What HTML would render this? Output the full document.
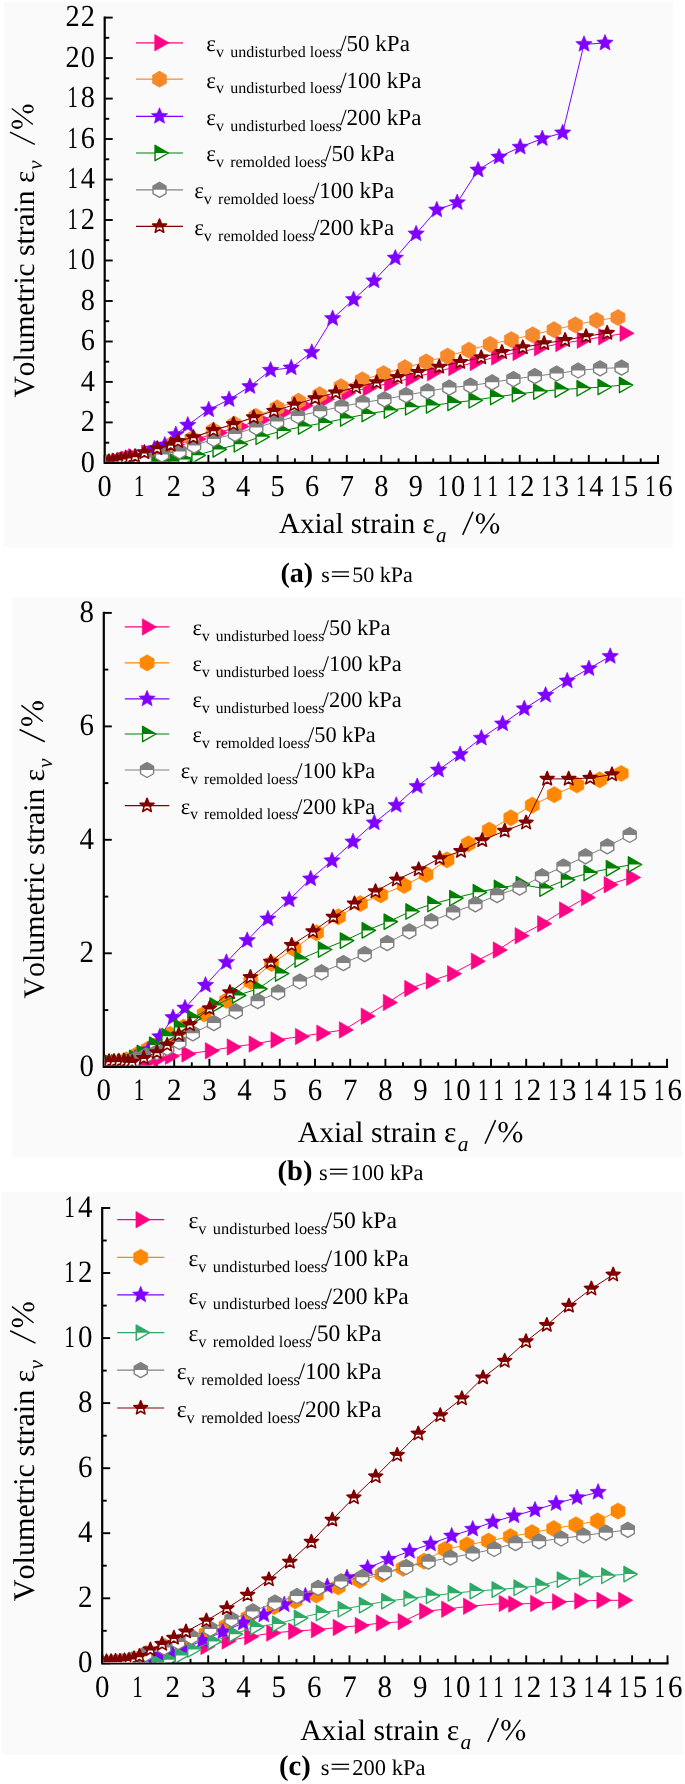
<!DOCTYPE html>
<html><head><meta charset="utf-8"><style>
html,body{margin:0;padding:0;background:#fff;}
svg{display:block;text-rendering:geometricPrecision;font-kerning:none;will-change:transform;}
text{font-family:"Liberation Serif", serif;}
</style></head><body>
<svg width="685" height="1784" viewBox="0 0 685 1784" font-family='"Liberation Serif", serif' fill="#000"><defs><clipPath id="th"><rect x="-15" y="-15" width="30" height="15"/></clipPath><clipPath id="th1"><rect x="-15" y="-15" width="30" height="16"/></clipPath><polygon id="m_pink" points="9.50,0.00 -4.75,-8.23 -4.75,8.23" fill="#FF0384" stroke="#FF0384" stroke-width="0.6" stroke-linejoin="round"/><polygon id="m_or1" points="0.00,-8.10 7.01,-4.05 7.01,4.05 0.00,8.10 -7.01,4.05 -7.01,-4.05" fill="#F5892C" stroke="#F5892C" stroke-width="0.6" stroke-linejoin="round"/><polygon id="m_or" points="0.00,-8.10 7.01,-4.05 7.01,4.05 0.00,8.10 -7.01,4.05 -7.01,-4.05" fill="#FF8800" stroke="#FF8800" stroke-width="0.6" stroke-linejoin="round"/><polygon id="m_pur" points="0.00,-8.60 2.29,-3.16 8.18,-2.66 3.71,1.21 5.05,6.96 0.00,3.90 -5.05,6.96 -3.71,1.21 -8.18,-2.66 -2.29,-3.16" fill="#8000FF" stroke="#8000FF" stroke-width="0.6" stroke-linejoin="round"/><g id="m_grn"><polygon points="8.90,0.00 -4.45,-7.71 -4.45,7.71" fill="#fff"/><polygon points="8.90,0.00 -4.45,-7.71 -4.45,7.71" fill="#008000" clip-path="url(#th)"/><polygon points="8.90,0.00 -4.45,-7.71 -4.45,7.71" fill="none" stroke="#008000" stroke-width="1.4" stroke-linejoin="round"/></g><g id="m_teal"><polygon points="8.90,0.00 -4.45,-7.71 -4.45,7.71" fill="#fff"/><polygon points="8.90,0.00 -4.45,-7.71 -4.45,7.71" fill="#2EAA66" clip-path="url(#th)"/><polygon points="8.90,0.00 -4.45,-7.71 -4.45,7.71" fill="none" stroke="#2EAA66" stroke-width="1.4" stroke-linejoin="round"/></g><g id="m_gry"><polygon points="0.00,-7.50 6.50,-3.75 6.50,3.75 0.00,7.50 -6.50,3.75 -6.50,-3.75" fill="#fff"/><polygon points="0.00,-7.50 6.50,-3.75 6.50,3.75 0.00,7.50 -6.50,3.75 -6.50,-3.75" fill="#808080" clip-path="url(#th)"/><polygon points="0.00,-7.50 6.50,-3.75 6.50,3.75 0.00,7.50 -6.50,3.75 -6.50,-3.75" fill="none" stroke="#808080" stroke-width="1.4" stroke-linejoin="round"/></g><g id="m_dred"><polygon points="0.00,-7.30 1.88,-2.59 6.94,-2.26 3.04,0.99 4.29,5.91 0.00,3.20 -4.29,5.91 -3.04,0.99 -6.94,-2.26 -1.88,-2.59" fill="#fff"/><polygon points="0.00,-7.30 1.88,-2.59 6.94,-2.26 3.04,0.99 4.29,5.91 0.00,3.20 -4.29,5.91 -3.04,0.99 -6.94,-2.26 -1.88,-2.59" fill="#800000" clip-path="url(#th1)"/><polygon points="0.00,-7.30 1.88,-2.59 6.94,-2.26 3.04,0.99 4.29,5.91 0.00,3.20 -4.29,5.91 -3.04,0.99 -6.94,-2.26 -1.88,-2.59" fill="none" stroke="#800000" stroke-width="1.6" stroke-linejoin="round"/></g></defs><rect x="0" y="0" width="685" height="1784" fill="#fff"/><rect x="3.5" y="2.3" width="669.5" height="545" fill="#FAFAFA"/><rect x="12.3" y="597.4" width="670" height="559.5" fill="#FAFAFA"/><rect x="2.3" y="1192" width="680.5" height="563" fill="#FAFAFA"/><path d="M104.7,17.6 V462.9 H658.0" fill="none" stroke="#000" stroke-width="2.2" stroke-linecap="square"/><line x1="104.7" y1="462.9" x2="112.7" y2="462.9" stroke="#000" stroke-width="1.9"/><text transform="translate(87.88,471.60) scale(0.93,1)" font-size="30.50" text-anchor="middle">0</text><line x1="104.7" y1="442.7" x2="109.2" y2="442.7" stroke="#000" stroke-width="1.9"/><line x1="104.7" y1="422.4" x2="112.7" y2="422.4" stroke="#000" stroke-width="1.9"/><text transform="translate(87.88,431.12) scale(0.93,1)" font-size="30.50" text-anchor="middle">2</text><line x1="104.7" y1="402.2" x2="109.2" y2="402.2" stroke="#000" stroke-width="1.9"/><line x1="104.7" y1="381.9" x2="112.7" y2="381.9" stroke="#000" stroke-width="1.9"/><text transform="translate(87.88,390.64) scale(0.93,1)" font-size="30.50" text-anchor="middle">4</text><line x1="104.7" y1="361.7" x2="109.2" y2="361.7" stroke="#000" stroke-width="1.9"/><line x1="104.7" y1="341.5" x2="112.7" y2="341.5" stroke="#000" stroke-width="1.9"/><text transform="translate(87.88,350.15) scale(0.93,1)" font-size="30.50" text-anchor="middle">6</text><line x1="104.7" y1="321.2" x2="109.2" y2="321.2" stroke="#000" stroke-width="1.9"/><line x1="104.7" y1="301.0" x2="112.7" y2="301.0" stroke="#000" stroke-width="1.9"/><text transform="translate(87.88,309.67) scale(0.93,1)" font-size="30.50" text-anchor="middle">8</text><line x1="104.7" y1="280.7" x2="109.2" y2="280.7" stroke="#000" stroke-width="1.9"/><line x1="104.7" y1="260.5" x2="112.7" y2="260.5" stroke="#000" stroke-width="1.9"/><text transform="translate(72.62,269.19) scale(0.68,1)" font-size="30.50" text-anchor="middle">1</text><text transform="translate(87.88,269.19) scale(0.93,1)" font-size="30.50" text-anchor="middle">0</text><line x1="104.7" y1="240.2" x2="109.2" y2="240.2" stroke="#000" stroke-width="1.9"/><line x1="104.7" y1="220.0" x2="112.7" y2="220.0" stroke="#000" stroke-width="1.9"/><text transform="translate(72.62,228.71) scale(0.68,1)" font-size="30.50" text-anchor="middle">1</text><text transform="translate(87.88,228.71) scale(0.93,1)" font-size="30.50" text-anchor="middle">2</text><line x1="104.7" y1="199.8" x2="109.2" y2="199.8" stroke="#000" stroke-width="1.9"/><line x1="104.7" y1="179.5" x2="112.7" y2="179.5" stroke="#000" stroke-width="1.9"/><text transform="translate(72.62,188.23) scale(0.68,1)" font-size="30.50" text-anchor="middle">1</text><text transform="translate(87.88,188.23) scale(0.93,1)" font-size="30.50" text-anchor="middle">4</text><line x1="104.7" y1="159.3" x2="109.2" y2="159.3" stroke="#000" stroke-width="1.9"/><line x1="104.7" y1="139.0" x2="112.7" y2="139.0" stroke="#000" stroke-width="1.9"/><text transform="translate(72.62,147.75) scale(0.68,1)" font-size="30.50" text-anchor="middle">1</text><text transform="translate(87.88,147.75) scale(0.93,1)" font-size="30.50" text-anchor="middle">6</text><line x1="104.7" y1="118.8" x2="109.2" y2="118.8" stroke="#000" stroke-width="1.9"/><line x1="104.7" y1="98.6" x2="112.7" y2="98.6" stroke="#000" stroke-width="1.9"/><text transform="translate(72.62,107.26) scale(0.68,1)" font-size="30.50" text-anchor="middle">1</text><text transform="translate(87.88,107.26) scale(0.93,1)" font-size="30.50" text-anchor="middle">8</text><line x1="104.7" y1="78.3" x2="109.2" y2="78.3" stroke="#000" stroke-width="1.9"/><line x1="104.7" y1="58.1" x2="112.7" y2="58.1" stroke="#000" stroke-width="1.9"/><text transform="translate(72.62,66.78) scale(0.93,1)" font-size="30.50" text-anchor="middle">2</text><text transform="translate(87.88,66.78) scale(0.93,1)" font-size="30.50" text-anchor="middle">0</text><line x1="104.7" y1="37.8" x2="109.2" y2="37.8" stroke="#000" stroke-width="1.9"/><line x1="104.7" y1="17.6" x2="112.7" y2="17.6" stroke="#000" stroke-width="1.9"/><text transform="translate(72.62,26.30) scale(0.93,1)" font-size="30.50" text-anchor="middle">2</text><text transform="translate(87.88,26.30) scale(0.93,1)" font-size="30.50" text-anchor="middle">2</text><line x1="104.7" y1="462.9" x2="104.7" y2="454.9" stroke="#000" stroke-width="1.9"/><text transform="translate(104.70,495.50) scale(0.93,1)" font-size="30.50" text-anchor="middle">0</text><line x1="122.0" y1="462.9" x2="122.0" y2="458.4" stroke="#000" stroke-width="1.9"/><line x1="139.3" y1="462.9" x2="139.3" y2="454.9" stroke="#000" stroke-width="1.9"/><text transform="translate(139.28,495.50) scale(0.68,1)" font-size="30.50" text-anchor="middle">1</text><line x1="156.6" y1="462.9" x2="156.6" y2="458.4" stroke="#000" stroke-width="1.9"/><line x1="173.9" y1="462.9" x2="173.9" y2="454.9" stroke="#000" stroke-width="1.9"/><text transform="translate(173.86,495.50) scale(0.93,1)" font-size="30.50" text-anchor="middle">2</text><line x1="191.1" y1="462.9" x2="191.1" y2="458.4" stroke="#000" stroke-width="1.9"/><line x1="208.4" y1="462.9" x2="208.4" y2="454.9" stroke="#000" stroke-width="1.9"/><text transform="translate(208.44,495.50) scale(0.93,1)" font-size="30.50" text-anchor="middle">3</text><line x1="225.7" y1="462.9" x2="225.7" y2="458.4" stroke="#000" stroke-width="1.9"/><line x1="243.0" y1="462.9" x2="243.0" y2="454.9" stroke="#000" stroke-width="1.9"/><text transform="translate(243.02,495.50) scale(0.93,1)" font-size="30.50" text-anchor="middle">4</text><line x1="260.3" y1="462.9" x2="260.3" y2="458.4" stroke="#000" stroke-width="1.9"/><line x1="277.6" y1="462.9" x2="277.6" y2="454.9" stroke="#000" stroke-width="1.9"/><text transform="translate(277.60,495.50) scale(0.93,1)" font-size="30.50" text-anchor="middle">5</text><line x1="294.9" y1="462.9" x2="294.9" y2="458.4" stroke="#000" stroke-width="1.9"/><line x1="312.2" y1="462.9" x2="312.2" y2="454.9" stroke="#000" stroke-width="1.9"/><text transform="translate(312.18,495.50) scale(0.93,1)" font-size="30.50" text-anchor="middle">6</text><line x1="329.5" y1="462.9" x2="329.5" y2="458.4" stroke="#000" stroke-width="1.9"/><line x1="346.8" y1="462.9" x2="346.8" y2="454.9" stroke="#000" stroke-width="1.9"/><text transform="translate(346.76,495.50) scale(0.93,1)" font-size="30.50" text-anchor="middle">7</text><line x1="364.0" y1="462.9" x2="364.0" y2="458.4" stroke="#000" stroke-width="1.9"/><line x1="381.3" y1="462.9" x2="381.3" y2="454.9" stroke="#000" stroke-width="1.9"/><text transform="translate(381.34,495.50) scale(0.93,1)" font-size="30.50" text-anchor="middle">8</text><line x1="398.6" y1="462.9" x2="398.6" y2="458.4" stroke="#000" stroke-width="1.9"/><line x1="415.9" y1="462.9" x2="415.9" y2="454.9" stroke="#000" stroke-width="1.9"/><text transform="translate(415.92,495.50) scale(0.93,1)" font-size="30.50" text-anchor="middle">9</text><line x1="433.2" y1="462.9" x2="433.2" y2="458.4" stroke="#000" stroke-width="1.9"/><line x1="450.5" y1="462.9" x2="450.5" y2="454.9" stroke="#000" stroke-width="1.9"/><text transform="translate(442.87,495.50) scale(0.68,1)" font-size="30.50" text-anchor="middle">1</text><text transform="translate(458.12,495.50) scale(0.93,1)" font-size="30.50" text-anchor="middle">0</text><line x1="467.8" y1="462.9" x2="467.8" y2="458.4" stroke="#000" stroke-width="1.9"/><line x1="485.1" y1="462.9" x2="485.1" y2="454.9" stroke="#000" stroke-width="1.9"/><text transform="translate(477.45,495.50) scale(0.68,1)" font-size="30.50" text-anchor="middle">1</text><text transform="translate(492.70,495.50) scale(0.68,1)" font-size="30.50" text-anchor="middle">1</text><line x1="502.4" y1="462.9" x2="502.4" y2="458.4" stroke="#000" stroke-width="1.9"/><line x1="519.7" y1="462.9" x2="519.7" y2="454.9" stroke="#000" stroke-width="1.9"/><text transform="translate(512.03,495.50) scale(0.68,1)" font-size="30.50" text-anchor="middle">1</text><text transform="translate(527.28,495.50) scale(0.93,1)" font-size="30.50" text-anchor="middle">2</text><line x1="537.0" y1="462.9" x2="537.0" y2="458.4" stroke="#000" stroke-width="1.9"/><line x1="554.2" y1="462.9" x2="554.2" y2="454.9" stroke="#000" stroke-width="1.9"/><text transform="translate(546.62,495.50) scale(0.68,1)" font-size="30.50" text-anchor="middle">1</text><text transform="translate(561.87,495.50) scale(0.93,1)" font-size="30.50" text-anchor="middle">3</text><line x1="571.5" y1="462.9" x2="571.5" y2="458.4" stroke="#000" stroke-width="1.9"/><line x1="588.8" y1="462.9" x2="588.8" y2="454.9" stroke="#000" stroke-width="1.9"/><text transform="translate(581.20,495.50) scale(0.68,1)" font-size="30.50" text-anchor="middle">1</text><text transform="translate(596.45,495.50) scale(0.93,1)" font-size="30.50" text-anchor="middle">4</text><line x1="606.1" y1="462.9" x2="606.1" y2="458.4" stroke="#000" stroke-width="1.9"/><line x1="623.4" y1="462.9" x2="623.4" y2="454.9" stroke="#000" stroke-width="1.9"/><text transform="translate(615.77,495.50) scale(0.68,1)" font-size="30.50" text-anchor="middle">1</text><text transform="translate(631.02,495.50) scale(0.93,1)" font-size="30.50" text-anchor="middle">5</text><line x1="640.7" y1="462.9" x2="640.7" y2="458.4" stroke="#000" stroke-width="1.9"/><line x1="658.0" y1="462.9" x2="658.0" y2="454.9" stroke="#000" stroke-width="1.9"/><text transform="translate(650.36,495.50) scale(0.68,1)" font-size="30.50" text-anchor="middle">1</text><text transform="translate(665.61,495.50) scale(0.93,1)" font-size="30.50" text-anchor="middle">6</text><g transform="translate(33.6,396.9) rotate(-90)"><text x="-0.50" y="0.00" font-size="29.45" font-weight="400" font-style="normal" text-anchor="start" >Volumetric strain</text><text x="213.80" y="0.00" font-size="29.45" font-weight="400" font-style="normal" text-anchor="start" >ε</text><text x="227.10" y="8.30" font-size="21.00" font-weight="400" font-style="italic" text-anchor="start" >v</text><g transform="translate(251.9,0) scale(1.0)"><path d="M0.7,1.2 L12.8,-23.6" stroke="#000" stroke-width="1.5" fill="none"/><path d="M20.6,-0.7 L36.4,-21.8" stroke="#000" stroke-width="1.3" fill="none"/><path d="M16.1,-16.5 a4.5,5.6 0 1,0 9,0 a4.5,5.6 0 1,0 -9,0 Z M18.35,-16.5 a2.25,4.5 0 1,0 4.5,0 a2.25,4.5 0 1,0 -4.5,0 Z" fill="#000" fill-rule="evenodd"/><path d="M31.6,-5.5 a4.5,5.6 0 1,0 9,0 a4.5,5.6 0 1,0 -9,0 Z M33.85,-5.5 a2.25,4.5 0 1,0 4.5,0 a2.25,4.5 0 1,0 -4.5,0 Z" fill="#000" fill-rule="evenodd"/></g></g><g transform="translate(279.7,533.1) scale(1.0)"><text x="-0.60" y="0.00" font-size="29" font-weight="400" font-style="normal" text-anchor="start" >Axial strain ε</text><text x="156.20" y="8.70" font-size="21" font-weight="400" font-style="italic" text-anchor="start" >a</text><path d="M183.0,1.8 L193.3,-21.4" stroke="#000" stroke-width="1.5" fill="none"/><path d="M200.8,0.2 L214.8,-19.8" stroke="#000" stroke-width="1.3" fill="none"/><path d="M196.1,-14.45 a4.6,5.35 0 1,0 9.2,0 a4.6,5.35 0 1,0 -9.2,0 Z M198.39999999999998,-14.45 a2.3,4.3 0 1,0 4.6,0 a2.3,4.3 0 1,0 -4.6,0 Z" fill="#000" fill-rule="evenodd"/><path d="M210.4,-4.75 a4.6,5.35 0 1,0 9.2,0 a4.6,5.35 0 1,0 -9.2,0 Z M212.7,-4.75 a2.3,4.3 0 1,0 4.6,0 a2.3,4.3 0 1,0 -4.6,0 Z" fill="#000" fill-rule="evenodd"/></g><g transform="translate(281.7,581.9) scale(1.0)"><text x="-1.20" y="0.50" font-size="28" font-weight="700" font-style="normal" text-anchor="start" >(a)</text><text x="39.50" y="0.00" font-size="22" font-weight="400" font-style="normal" text-anchor="start" >s</text><rect x="50.2" y="-10.65" width="17.1" height="1.3" fill="#000"/><rect x="50.2" y="-6.15" width="17.1" height="1.3" fill="#000"/><text x="70.50" y="0.00" font-size="22" font-weight="400" font-style="normal" text-anchor="start" >50 kPa</text></g><clipPath id="plot0"><rect x="105.8" y="-2.3999999999999986" width="573.28" height="464.19999999999993"/></clipPath><g clip-path="url(#plot0)"><path d="M104.7,463.0 L108.5,462.8 L113.0,462.3 L117.6,461.5 L122.3,460.3 L126.4,459.2 L129.9,458.0 L133.4,456.8 L146.3,453.3 L159.1,449.2 L175.3,444.7 L196.7,439.1 L218.1,432.7 L239.5,426.5 L260.9,419.9 L282.3,412.6 L303.7,405.8 L325.1,399.2 L346.5,392.9 L367.9,387.9 L389.3,383.4 L410.7,378.3 L432.1,372.8 L453.5,367.5 L474.9,362.4 L496.3,356.9 L517.7,352.4 L539.1,347.8 L560.5,343.6 L581.9,340.2 L603.3,336.8 L624.7,333.3" fill="none" stroke="#FF0384" stroke-width="1.0"/><use href="#m_pink" x="104.7" y="463.0"/><use href="#m_pink" x="108.5" y="462.8"/><use href="#m_pink" x="113.0" y="462.3"/><use href="#m_pink" x="117.6" y="461.5"/><use href="#m_pink" x="122.3" y="460.3"/><use href="#m_pink" x="126.4" y="459.2"/><use href="#m_pink" x="129.9" y="458.0"/><use href="#m_pink" x="133.4" y="456.8"/><use href="#m_pink" x="146.3" y="453.3"/><use href="#m_pink" x="159.1" y="449.2"/><use href="#m_pink" x="175.3" y="444.7"/><use href="#m_pink" x="196.7" y="439.1"/><use href="#m_pink" x="218.1" y="432.7"/><use href="#m_pink" x="239.5" y="426.5"/><use href="#m_pink" x="260.9" y="419.9"/><use href="#m_pink" x="282.3" y="412.6"/><use href="#m_pink" x="303.7" y="405.8"/><use href="#m_pink" x="325.1" y="399.2"/><use href="#m_pink" x="346.5" y="392.9"/><use href="#m_pink" x="367.9" y="387.9"/><use href="#m_pink" x="389.3" y="383.4"/><use href="#m_pink" x="410.7" y="378.3"/><use href="#m_pink" x="432.1" y="372.8"/><use href="#m_pink" x="453.5" y="367.5"/><use href="#m_pink" x="474.9" y="362.4"/><use href="#m_pink" x="496.3" y="356.9"/><use href="#m_pink" x="517.7" y="352.4"/><use href="#m_pink" x="539.1" y="347.8"/><use href="#m_pink" x="560.5" y="343.6"/><use href="#m_pink" x="581.9" y="340.2"/><use href="#m_pink" x="603.3" y="336.8"/><use href="#m_pink" x="624.7" y="333.3"/><path d="M106.7,462.7 L128.0,460.1 L149.3,453.3 L170.6,444.9 L191.9,438.9 L213.2,430.5 L234.5,424.2 L255.8,416.4 L277.1,407.9 L298.4,401.2 L319.7,394.7 L341.0,386.7 L362.3,379.8 L383.6,373.6 L404.9,367.7 L426.2,361.9 L447.5,356.1 L468.8,350.2 L490.1,344.3 L511.4,339.6 L532.7,334.8 L554.0,329.7 L575.3,324.9 L596.6,320.4 L617.9,317.5" fill="none" stroke="#F5892C" stroke-width="1.0"/><use href="#m_or1" x="106.7" y="462.7"/><use href="#m_or1" x="128.0" y="460.1"/><use href="#m_or1" x="149.3" y="453.3"/><use href="#m_or1" x="170.6" y="444.9"/><use href="#m_or1" x="191.9" y="438.9"/><use href="#m_or1" x="213.2" y="430.5"/><use href="#m_or1" x="234.5" y="424.2"/><use href="#m_or1" x="255.8" y="416.4"/><use href="#m_or1" x="277.1" y="407.9"/><use href="#m_or1" x="298.4" y="401.2"/><use href="#m_or1" x="319.7" y="394.7"/><use href="#m_or1" x="341.0" y="386.7"/><use href="#m_or1" x="362.3" y="379.8"/><use href="#m_or1" x="383.6" y="373.6"/><use href="#m_or1" x="404.9" y="367.7"/><use href="#m_or1" x="426.2" y="361.9"/><use href="#m_or1" x="447.5" y="356.1"/><use href="#m_or1" x="468.8" y="350.2"/><use href="#m_or1" x="490.1" y="344.3"/><use href="#m_or1" x="511.4" y="339.6"/><use href="#m_or1" x="532.7" y="334.8"/><use href="#m_or1" x="554.0" y="329.7"/><use href="#m_or1" x="575.3" y="324.9"/><use href="#m_or1" x="596.6" y="320.4"/><use href="#m_or1" x="617.9" y="317.5"/><path d="M104.7,463.0 L112.0,462.0 L120.0,460.5 L128.0,459.0 L136.0,457.5 L147.9,454.5 L154.3,449.0 L164.8,445.0 L175.8,434.6 L187.8,425.1 L208.7,409.8 L229.1,399.5 L249.9,386.5 L270.6,370.2 L291.2,367.8 L311.8,352.3 L332.6,318.5 L353.6,299.5 L374.0,280.8 L395.3,258.0 L416.1,233.8 L436.8,209.9 L457.2,202.6 L478.1,170.0 L499.0,157.0 L520.2,147.1 L542.3,138.6 L562.7,132.8 L584.0,44.3 L605.0,43.0" fill="none" stroke="#8000FF" stroke-width="1.0"/><use href="#m_pur" x="104.7" y="463.0"/><use href="#m_pur" x="112.0" y="462.0"/><use href="#m_pur" x="120.0" y="460.5"/><use href="#m_pur" x="128.0" y="459.0"/><use href="#m_pur" x="136.0" y="457.5"/><use href="#m_pur" x="147.9" y="454.5"/><use href="#m_pur" x="154.3" y="449.0"/><use href="#m_pur" x="164.8" y="445.0"/><use href="#m_pur" x="175.8" y="434.6"/><use href="#m_pur" x="187.8" y="425.1"/><use href="#m_pur" x="208.7" y="409.8"/><use href="#m_pur" x="229.1" y="399.5"/><use href="#m_pur" x="249.9" y="386.5"/><use href="#m_pur" x="270.6" y="370.2"/><use href="#m_pur" x="291.2" y="367.8"/><use href="#m_pur" x="311.8" y="352.3"/><use href="#m_pur" x="332.6" y="318.5"/><use href="#m_pur" x="353.6" y="299.5"/><use href="#m_pur" x="374.0" y="280.8"/><use href="#m_pur" x="395.3" y="258.0"/><use href="#m_pur" x="416.1" y="233.8"/><use href="#m_pur" x="436.8" y="209.9"/><use href="#m_pur" x="457.2" y="202.6"/><use href="#m_pur" x="478.1" y="170.0"/><use href="#m_pur" x="499.0" y="157.0"/><use href="#m_pur" x="520.2" y="147.1"/><use href="#m_pur" x="542.3" y="138.6"/><use href="#m_pur" x="562.7" y="132.8"/><use href="#m_pur" x="584.0" y="44.3"/><use href="#m_pur" x="605.0" y="43.0"/><path d="M104.7,463.0 L112.0,463.0 L120.0,463.0 L128.0,463.0 L136.0,462.8 L145.0,462.5 L156.0,462.2 L165.0,462.0 L174.5,461.8 L183.2,459.6 L196.4,455.3 L217.5,449.4 L238.7,444.3 L260.5,436.8 L281.8,431.0 L302.9,426.5 L323.4,423.0 L345.0,418.5 L366.5,414.0 L388.8,410.5 L410.0,407.3 L430.9,405.4 L452.3,402.9 L473.5,400.3 L495.0,397.0 L516.8,394.1 L538.1,391.6 L559.6,389.6 L581.5,388.3 L602.5,387.0 L623.9,385.0" fill="none" stroke="#008000" stroke-width="1.0"/><use href="#m_grn" x="104.7" y="463.0"/><use href="#m_grn" x="112.0" y="463.0"/><use href="#m_grn" x="120.0" y="463.0"/><use href="#m_grn" x="128.0" y="463.0"/><use href="#m_grn" x="136.0" y="462.8"/><use href="#m_grn" x="145.0" y="462.5"/><use href="#m_grn" x="156.0" y="462.2"/><use href="#m_grn" x="165.0" y="462.0"/><use href="#m_grn" x="174.5" y="461.8"/><use href="#m_grn" x="183.2" y="459.6"/><use href="#m_grn" x="196.4" y="455.3"/><use href="#m_grn" x="217.5" y="449.4"/><use href="#m_grn" x="238.7" y="444.3"/><use href="#m_grn" x="260.5" y="436.8"/><use href="#m_grn" x="281.8" y="431.0"/><use href="#m_grn" x="302.9" y="426.5"/><use href="#m_grn" x="323.4" y="423.0"/><use href="#m_grn" x="345.0" y="418.5"/><use href="#m_grn" x="366.5" y="414.0"/><use href="#m_grn" x="388.8" y="410.5"/><use href="#m_grn" x="410.0" y="407.3"/><use href="#m_grn" x="430.9" y="405.4"/><use href="#m_grn" x="452.3" y="402.9"/><use href="#m_grn" x="473.5" y="400.3"/><use href="#m_grn" x="495.0" y="397.0"/><use href="#m_grn" x="516.8" y="394.1"/><use href="#m_grn" x="538.1" y="391.6"/><use href="#m_grn" x="559.6" y="389.6"/><use href="#m_grn" x="581.5" y="388.3"/><use href="#m_grn" x="602.5" y="387.0"/><use href="#m_grn" x="623.9" y="385.0"/><path d="M104.7,463.0 L112.0,462.5 L120.0,461.5 L128.0,460.5 L136.0,459.5 L145.0,457.5 L162.0,454.5 L179.5,451.4 L194.1,445.6 L213.8,439.0 L235.0,433.9 L256.3,427.5 L277.1,421.5 L297.9,416.0 L320.1,411.2 L341.6,406.5 L362.6,402.5 L384.4,399.3 L406.0,395.2 L427.4,391.3 L449.3,387.6 L470.5,385.7 L492.1,382.3 L513.4,379.1 L534.8,376.2 L556.6,373.5 L578.2,370.5 L600.1,368.4 L621.6,367.7" fill="none" stroke="#808080" stroke-width="1.0"/><use href="#m_gry" x="104.7" y="463.0"/><use href="#m_gry" x="112.0" y="462.5"/><use href="#m_gry" x="120.0" y="461.5"/><use href="#m_gry" x="128.0" y="460.5"/><use href="#m_gry" x="136.0" y="459.5"/><use href="#m_gry" x="145.0" y="457.5"/><use href="#m_gry" x="162.0" y="454.5"/><use href="#m_gry" x="179.5" y="451.4"/><use href="#m_gry" x="194.1" y="445.6"/><use href="#m_gry" x="213.8" y="439.0"/><use href="#m_gry" x="235.0" y="433.9"/><use href="#m_gry" x="256.3" y="427.5"/><use href="#m_gry" x="277.1" y="421.5"/><use href="#m_gry" x="297.9" y="416.0"/><use href="#m_gry" x="320.1" y="411.2"/><use href="#m_gry" x="341.6" y="406.5"/><use href="#m_gry" x="362.6" y="402.5"/><use href="#m_gry" x="384.4" y="399.3"/><use href="#m_gry" x="406.0" y="395.2"/><use href="#m_gry" x="427.4" y="391.3"/><use href="#m_gry" x="449.3" y="387.6"/><use href="#m_gry" x="470.5" y="385.7"/><use href="#m_gry" x="492.1" y="382.3"/><use href="#m_gry" x="513.4" y="379.1"/><use href="#m_gry" x="534.8" y="376.2"/><use href="#m_gry" x="556.6" y="373.5"/><use href="#m_gry" x="578.2" y="370.5"/><use href="#m_gry" x="600.1" y="368.4"/><use href="#m_gry" x="621.6" y="367.7"/><path d="M104.7,461.5 L109.0,461.5 L113.0,461.0 L117.0,460.5 L121.0,459.5 L125.5,458.5 L130.0,457.5 L135.0,456.3 L144.4,452.4 L157.2,448.3 L170.7,444.8 L178.0,441.2 L193.4,437.3 L213.5,430.2 L233.5,424.2 L253.7,417.3 L274.0,411.0 L294.4,404.7 L315.2,398.3 L335.8,392.6 L356.0,387.2 L376.6,382.4 L397.5,377.2 L418.2,372.1 L439.2,366.8 L460.2,362.1 L481.2,357.5 L502.0,352.2 L522.8,347.5 L544.1,343.4 L565.1,340.2 L586.1,336.3 L607.2,333.0" fill="none" stroke="#800000" stroke-width="1.0"/><use href="#m_dred" x="104.7" y="461.5"/><use href="#m_dred" x="109.0" y="461.5"/><use href="#m_dred" x="113.0" y="461.0"/><use href="#m_dred" x="117.0" y="460.5"/><use href="#m_dred" x="121.0" y="459.5"/><use href="#m_dred" x="125.5" y="458.5"/><use href="#m_dred" x="130.0" y="457.5"/><use href="#m_dred" x="135.0" y="456.3"/><use href="#m_dred" x="144.4" y="452.4"/><use href="#m_dred" x="157.2" y="448.3"/><use href="#m_dred" x="170.7" y="444.8"/><use href="#m_dred" x="178.0" y="441.2"/><use href="#m_dred" x="193.4" y="437.3"/><use href="#m_dred" x="213.5" y="430.2"/><use href="#m_dred" x="233.5" y="424.2"/><use href="#m_dred" x="253.7" y="417.3"/><use href="#m_dred" x="274.0" y="411.0"/><use href="#m_dred" x="294.4" y="404.7"/><use href="#m_dred" x="315.2" y="398.3"/><use href="#m_dred" x="335.8" y="392.6"/><use href="#m_dred" x="356.0" y="387.2"/><use href="#m_dred" x="376.6" y="382.4"/><use href="#m_dred" x="397.5" y="377.2"/><use href="#m_dred" x="418.2" y="372.1"/><use href="#m_dred" x="439.2" y="366.8"/><use href="#m_dred" x="460.2" y="362.1"/><use href="#m_dred" x="481.2" y="357.5"/><use href="#m_dred" x="502.0" y="352.2"/><use href="#m_dred" x="522.8" y="347.5"/><use href="#m_dred" x="544.1" y="343.4"/><use href="#m_dred" x="565.1" y="340.2"/><use href="#m_dred" x="586.1" y="336.3"/><use href="#m_dred" x="607.2" y="333.0"/></g><line x1="136" y1="42.8" x2="183" y2="42.8" stroke="#FF0384" stroke-width="1.2"/><use href="#m_pink" x="159.5" y="42.8"/><text x="206.29999999999998" y="51.20" font-size="23.00">ε<tspan font-size="16.00" dy="5.80">v</tspan><tspan font-size="16.00" dx="6.20">undisturbed loess</tspan><tspan font-size="23.00" dy="-5.80" dx="-1.50">/50 kPa</tspan></text><line x1="136" y1="79.2" x2="183" y2="79.2" stroke="#F5892C" stroke-width="1.2"/><use href="#m_or1" x="159.5" y="79.2"/><text x="206.29999999999998" y="87.60" font-size="23.00">ε<tspan font-size="16.00" dy="5.80">v</tspan><tspan font-size="16.00" dx="6.20">undisturbed loess</tspan><tspan font-size="23.00" dy="-5.80" dx="-1.50">/100 kPa</tspan></text><line x1="136" y1="116.3" x2="183" y2="116.3" stroke="#8000FF" stroke-width="1.2"/><use href="#m_pur" x="159.5" y="116.3"/><text x="206.29999999999998" y="124.70" font-size="23.00">ε<tspan font-size="16.00" dy="5.80">v</tspan><tspan font-size="16.00" dx="6.20">undisturbed loess</tspan><tspan font-size="23.00" dy="-5.80" dx="-1.50">/200 kPa</tspan></text><line x1="136" y1="153" x2="183" y2="153" stroke="#008000" stroke-width="1.2"/><use href="#m_grn" x="159.5" y="153"/><text x="206.29999999999998" y="161.40" font-size="23.00">ε<tspan font-size="16.00" dy="5.80">v</tspan><tspan font-size="16.00" dx="6.20">remolded loess</tspan><tspan font-size="23.00" dy="-5.80" dx="-1.50">/50 kPa</tspan></text><line x1="136" y1="189.8" x2="183" y2="189.8" stroke="#808080" stroke-width="1.2"/><use href="#m_gry" x="159.5" y="189.8"/><text x="194.2" y="198.20" font-size="23.00">ε<tspan font-size="16.00" dy="5.80">v</tspan><tspan font-size="16.00" dx="6.20">remolded loess</tspan><tspan font-size="23.00" dy="-5.80" dx="-1.50">/100 kPa</tspan></text><line x1="136" y1="226.4" x2="183" y2="226.4" stroke="#800000" stroke-width="1.2"/><use href="#m_dred" x="159.5" y="226.4"/><text x="194.2" y="234.80" font-size="23.00">ε<tspan font-size="16.00" dy="5.80">v</tspan><tspan font-size="16.00" dx="6.20">remolded loess</tspan><tspan font-size="23.00" dy="-5.80" dx="-1.50">/200 kPa</tspan></text><path d="M103.8,612.9 V1066.8 H667.0" fill="none" stroke="#000" stroke-width="2.2" stroke-linecap="square"/><line x1="103.8" y1="1066.8" x2="111.8" y2="1066.8" stroke="#000" stroke-width="1.9"/><text transform="translate(86.82,1075.67) scale(0.93,1)" font-size="31.11" text-anchor="middle">0</text><line x1="103.8" y1="1010.1" x2="108.3" y2="1010.1" stroke="#000" stroke-width="1.9"/><line x1="103.8" y1="953.3" x2="111.8" y2="953.3" stroke="#000" stroke-width="1.9"/><text transform="translate(86.82,962.20) scale(0.93,1)" font-size="31.11" text-anchor="middle">2</text><line x1="103.8" y1="896.6" x2="108.3" y2="896.6" stroke="#000" stroke-width="1.9"/><line x1="103.8" y1="839.8" x2="111.8" y2="839.8" stroke="#000" stroke-width="1.9"/><text transform="translate(86.82,848.72) scale(0.93,1)" font-size="31.11" text-anchor="middle">4</text><line x1="103.8" y1="783.1" x2="108.3" y2="783.1" stroke="#000" stroke-width="1.9"/><line x1="103.8" y1="726.4" x2="111.8" y2="726.4" stroke="#000" stroke-width="1.9"/><text transform="translate(86.82,735.25) scale(0.93,1)" font-size="31.11" text-anchor="middle">6</text><line x1="103.8" y1="669.6" x2="108.3" y2="669.6" stroke="#000" stroke-width="1.9"/><line x1="103.8" y1="612.9" x2="111.8" y2="612.9" stroke="#000" stroke-width="1.9"/><text transform="translate(86.82,621.77) scale(0.93,1)" font-size="31.11" text-anchor="middle">8</text><line x1="103.8" y1="1066.8" x2="103.8" y2="1058.8" stroke="#000" stroke-width="1.9"/><text transform="translate(103.80,1100.05) scale(0.93,1)" font-size="31.11" text-anchor="middle">0</text><line x1="121.4" y1="1066.8" x2="121.4" y2="1062.3" stroke="#000" stroke-width="1.9"/><line x1="139.0" y1="1066.8" x2="139.0" y2="1058.8" stroke="#000" stroke-width="1.9"/><text transform="translate(139.00,1100.05) scale(0.68,1)" font-size="31.11" text-anchor="middle">1</text><line x1="156.6" y1="1066.8" x2="156.6" y2="1062.3" stroke="#000" stroke-width="1.9"/><line x1="174.2" y1="1066.8" x2="174.2" y2="1058.8" stroke="#000" stroke-width="1.9"/><text transform="translate(174.20,1100.05) scale(0.93,1)" font-size="31.11" text-anchor="middle">2</text><line x1="191.8" y1="1066.8" x2="191.8" y2="1062.3" stroke="#000" stroke-width="1.9"/><line x1="209.4" y1="1066.8" x2="209.4" y2="1058.8" stroke="#000" stroke-width="1.9"/><text transform="translate(209.40,1100.05) scale(0.93,1)" font-size="31.11" text-anchor="middle">3</text><line x1="227.0" y1="1066.8" x2="227.0" y2="1062.3" stroke="#000" stroke-width="1.9"/><line x1="244.6" y1="1066.8" x2="244.6" y2="1058.8" stroke="#000" stroke-width="1.9"/><text transform="translate(244.60,1100.05) scale(0.93,1)" font-size="31.11" text-anchor="middle">4</text><line x1="262.2" y1="1066.8" x2="262.2" y2="1062.3" stroke="#000" stroke-width="1.9"/><line x1="279.8" y1="1066.8" x2="279.8" y2="1058.8" stroke="#000" stroke-width="1.9"/><text transform="translate(279.80,1100.05) scale(0.93,1)" font-size="31.11" text-anchor="middle">5</text><line x1="297.4" y1="1066.8" x2="297.4" y2="1062.3" stroke="#000" stroke-width="1.9"/><line x1="315.0" y1="1066.8" x2="315.0" y2="1058.8" stroke="#000" stroke-width="1.9"/><text transform="translate(315.00,1100.05) scale(0.93,1)" font-size="31.11" text-anchor="middle">6</text><line x1="332.6" y1="1066.8" x2="332.6" y2="1062.3" stroke="#000" stroke-width="1.9"/><line x1="350.2" y1="1066.8" x2="350.2" y2="1058.8" stroke="#000" stroke-width="1.9"/><text transform="translate(350.20,1100.05) scale(0.93,1)" font-size="31.11" text-anchor="middle">7</text><line x1="367.8" y1="1066.8" x2="367.8" y2="1062.3" stroke="#000" stroke-width="1.9"/><line x1="385.4" y1="1066.8" x2="385.4" y2="1058.8" stroke="#000" stroke-width="1.9"/><text transform="translate(385.40,1100.05) scale(0.93,1)" font-size="31.11" text-anchor="middle">8</text><line x1="403.0" y1="1066.8" x2="403.0" y2="1062.3" stroke="#000" stroke-width="1.9"/><line x1="420.6" y1="1066.8" x2="420.6" y2="1058.8" stroke="#000" stroke-width="1.9"/><text transform="translate(420.60,1100.05) scale(0.93,1)" font-size="31.11" text-anchor="middle">9</text><line x1="438.2" y1="1066.8" x2="438.2" y2="1062.3" stroke="#000" stroke-width="1.9"/><line x1="455.8" y1="1066.8" x2="455.8" y2="1058.8" stroke="#000" stroke-width="1.9"/><text transform="translate(448.02,1100.05) scale(0.68,1)" font-size="31.11" text-anchor="middle">1</text><text transform="translate(463.58,1100.05) scale(0.93,1)" font-size="31.11" text-anchor="middle">0</text><line x1="473.4" y1="1066.8" x2="473.4" y2="1062.3" stroke="#000" stroke-width="1.9"/><line x1="491.0" y1="1066.8" x2="491.0" y2="1058.8" stroke="#000" stroke-width="1.9"/><text transform="translate(483.22,1100.05) scale(0.68,1)" font-size="31.11" text-anchor="middle">1</text><text transform="translate(498.78,1100.05) scale(0.68,1)" font-size="31.11" text-anchor="middle">1</text><line x1="508.6" y1="1066.8" x2="508.6" y2="1062.3" stroke="#000" stroke-width="1.9"/><line x1="526.2" y1="1066.8" x2="526.2" y2="1058.8" stroke="#000" stroke-width="1.9"/><text transform="translate(518.42,1100.05) scale(0.68,1)" font-size="31.11" text-anchor="middle">1</text><text transform="translate(533.98,1100.05) scale(0.93,1)" font-size="31.11" text-anchor="middle">2</text><line x1="543.8" y1="1066.8" x2="543.8" y2="1062.3" stroke="#000" stroke-width="1.9"/><line x1="561.4" y1="1066.8" x2="561.4" y2="1058.8" stroke="#000" stroke-width="1.9"/><text transform="translate(553.62,1100.05) scale(0.68,1)" font-size="31.11" text-anchor="middle">1</text><text transform="translate(569.18,1100.05) scale(0.93,1)" font-size="31.11" text-anchor="middle">3</text><line x1="579.0" y1="1066.8" x2="579.0" y2="1062.3" stroke="#000" stroke-width="1.9"/><line x1="596.6" y1="1066.8" x2="596.6" y2="1058.8" stroke="#000" stroke-width="1.9"/><text transform="translate(588.82,1100.05) scale(0.68,1)" font-size="31.11" text-anchor="middle">1</text><text transform="translate(604.38,1100.05) scale(0.93,1)" font-size="31.11" text-anchor="middle">4</text><line x1="614.2" y1="1066.8" x2="614.2" y2="1062.3" stroke="#000" stroke-width="1.9"/><line x1="631.8" y1="1066.8" x2="631.8" y2="1058.8" stroke="#000" stroke-width="1.9"/><text transform="translate(624.02,1100.05) scale(0.68,1)" font-size="31.11" text-anchor="middle">1</text><text transform="translate(639.58,1100.05) scale(0.93,1)" font-size="31.11" text-anchor="middle">5</text><line x1="649.4" y1="1066.8" x2="649.4" y2="1062.3" stroke="#000" stroke-width="1.9"/><line x1="667.0" y1="1066.8" x2="667.0" y2="1058.8" stroke="#000" stroke-width="1.9"/><text transform="translate(659.22,1100.05) scale(0.68,1)" font-size="31.11" text-anchor="middle">1</text><text transform="translate(674.78,1100.05) scale(0.93,1)" font-size="31.11" text-anchor="middle">6</text><g transform="translate(43.6,998.0) rotate(-90)"><text x="-0.50" y="0.00" font-size="29.90" font-weight="400" font-style="normal" text-anchor="start" >Volumetric strain</text><text x="216.40" y="0.00" font-size="29.90" font-weight="400" font-style="normal" text-anchor="start" >ε</text><text x="230.10" y="8.47" font-size="21.42" font-weight="400" font-style="italic" text-anchor="start" >v</text><g transform="translate(255.5,0) scale(1.02)"><path d="M0.7,1.2 L12.8,-23.6" stroke="#000" stroke-width="1.5" fill="none"/><path d="M20.6,-0.7 L36.4,-21.8" stroke="#000" stroke-width="1.3" fill="none"/><path d="M16.1,-16.5 a4.5,5.6 0 1,0 9,0 a4.5,5.6 0 1,0 -9,0 Z M18.35,-16.5 a2.25,4.5 0 1,0 4.5,0 a2.25,4.5 0 1,0 -4.5,0 Z" fill="#000" fill-rule="evenodd"/><path d="M31.6,-5.5 a4.5,5.6 0 1,0 9,0 a4.5,5.6 0 1,0 -9,0 Z M33.85,-5.5 a2.25,4.5 0 1,0 4.5,0 a2.25,4.5 0 1,0 -4.5,0 Z" fill="#000" fill-rule="evenodd"/></g></g><g transform="translate(298.4,1141.9) scale(1.02)"><text x="-0.60" y="0.00" font-size="29" font-weight="400" font-style="normal" text-anchor="start" >Axial strain ε</text><text x="156.20" y="8.70" font-size="21" font-weight="400" font-style="italic" text-anchor="start" >a</text><path d="M183.0,1.8 L193.3,-21.4" stroke="#000" stroke-width="1.5" fill="none"/><path d="M200.8,0.2 L214.8,-19.8" stroke="#000" stroke-width="1.3" fill="none"/><path d="M196.1,-14.45 a4.6,5.35 0 1,0 9.2,0 a4.6,5.35 0 1,0 -9.2,0 Z M198.39999999999998,-14.45 a2.3,4.3 0 1,0 4.6,0 a2.3,4.3 0 1,0 -4.6,0 Z" fill="#000" fill-rule="evenodd"/><path d="M210.4,-4.75 a4.6,5.35 0 1,0 9.2,0 a4.6,5.35 0 1,0 -9.2,0 Z M212.7,-4.75 a2.3,4.3 0 1,0 4.6,0 a2.3,4.3 0 1,0 -4.6,0 Z" fill="#000" fill-rule="evenodd"/></g><g transform="translate(278.7,1179.5) scale(1.02)"><text x="-1.20" y="0.50" font-size="28" font-weight="700" font-style="normal" text-anchor="start" >(b)</text><text x="39.50" y="0.00" font-size="22" font-weight="400" font-style="normal" text-anchor="start" >s</text><rect x="50.2" y="-10.65" width="17.1" height="1.3" fill="#000"/><rect x="50.2" y="-6.15" width="17.1" height="1.3" fill="#000"/><text x="70.50" y="0.00" font-size="22" font-weight="400" font-style="normal" text-anchor="start" >100 kPa</text></g><clipPath id="plot1"><rect x="104.89999999999999" y="592.9" width="583.2" height="472.79999999999995"/></clipPath><g clip-path="url(#plot1)"><path d="M104.0,1066.0 L115.0,1065.5 L126.0,1064.5 L137.0,1063.0 L148.2,1061.3 L158.4,1058.6 L170.0,1056.2 L186.6,1053.9 L210.0,1050.8 L231.9,1047.0 L253.8,1044.1 L275.7,1040.0 L300.1,1036.6 L321.5,1033.2 L344.0,1029.9 L365.9,1016.2 L388.0,1002.5 L409.4,988.6 L430.9,981.0 L452.2,973.7 L476.0,961.2 L497.9,950.1 L519.8,935.8 L542.3,923.8 L564.2,910.1 L586.1,897.5 L608.8,884.7 L631.3,877.4" fill="none" stroke="#FF0384" stroke-width="1.0"/><use href="#m_pink" x="104.0" y="1066.0"/><use href="#m_pink" x="115.0" y="1065.5"/><use href="#m_pink" x="126.0" y="1064.5"/><use href="#m_pink" x="137.0" y="1063.0"/><use href="#m_pink" x="148.2" y="1061.3"/><use href="#m_pink" x="158.4" y="1058.6"/><use href="#m_pink" x="170.0" y="1056.2"/><use href="#m_pink" x="186.6" y="1053.9"/><use href="#m_pink" x="210.0" y="1050.8"/><use href="#m_pink" x="231.9" y="1047.0"/><use href="#m_pink" x="253.8" y="1044.1"/><use href="#m_pink" x="275.7" y="1040.0"/><use href="#m_pink" x="300.1" y="1036.6"/><use href="#m_pink" x="321.5" y="1033.2"/><use href="#m_pink" x="344.0" y="1029.9"/><use href="#m_pink" x="365.9" y="1016.2"/><use href="#m_pink" x="388.0" y="1002.5"/><use href="#m_pink" x="409.4" y="988.6"/><use href="#m_pink" x="430.9" y="981.0"/><use href="#m_pink" x="452.2" y="973.7"/><use href="#m_pink" x="476.0" y="961.2"/><use href="#m_pink" x="497.9" y="950.1"/><use href="#m_pink" x="519.8" y="935.8"/><use href="#m_pink" x="542.3" y="923.8"/><use href="#m_pink" x="564.2" y="910.1"/><use href="#m_pink" x="586.1" y="897.5"/><use href="#m_pink" x="608.8" y="884.7"/><use href="#m_pink" x="631.3" y="877.4"/><path d="M104.0,1065.0 L114.6,1062.8 L126.3,1059.9 L136.5,1054.8 L148.2,1049.0 L158.4,1043.9 L170.0,1034.4 L183.5,1027.0 L204.1,1014.0 L226.7,1000.5 L250.8,981.5 L271.5,963.5 L294.0,948.7 L316.5,932.8 L338.4,916.8 L360.3,903.6 L380.7,894.9 L404.1,885.5 L426.0,874.5 L447.0,859.9 L468.3,843.8 L489.2,830.1 L510.8,817.8 L532.3,805.2 L554.2,794.7 L576.9,785.0 L599.7,779.8 L621.2,773.5" fill="none" stroke="#FF8800" stroke-width="1.0"/><use href="#m_or" x="104.0" y="1065.0"/><use href="#m_or" x="114.6" y="1062.8"/><use href="#m_or" x="126.3" y="1059.9"/><use href="#m_or" x="136.5" y="1054.8"/><use href="#m_or" x="148.2" y="1049.0"/><use href="#m_or" x="158.4" y="1043.9"/><use href="#m_or" x="170.0" y="1034.4"/><use href="#m_or" x="183.5" y="1027.0"/><use href="#m_or" x="204.1" y="1014.0"/><use href="#m_or" x="226.7" y="1000.5"/><use href="#m_or" x="250.8" y="981.5"/><use href="#m_or" x="271.5" y="963.5"/><use href="#m_or" x="294.0" y="948.7"/><use href="#m_or" x="316.5" y="932.8"/><use href="#m_or" x="338.4" y="916.8"/><use href="#m_or" x="360.3" y="903.6"/><use href="#m_or" x="380.7" y="894.9"/><use href="#m_or" x="404.1" y="885.5"/><use href="#m_or" x="426.0" y="874.5"/><use href="#m_or" x="447.0" y="859.9"/><use href="#m_or" x="468.3" y="843.8"/><use href="#m_or" x="489.2" y="830.1"/><use href="#m_or" x="510.8" y="817.8"/><use href="#m_or" x="532.3" y="805.2"/><use href="#m_or" x="554.2" y="794.7"/><use href="#m_or" x="576.9" y="785.0"/><use href="#m_or" x="599.7" y="779.8"/><use href="#m_or" x="621.2" y="773.5"/><path d="M104.0,1065.0 L114.0,1063.5 L124.0,1061.5 L135.0,1058.0 L148.2,1049.8 L159.9,1036.7 L173.0,1017.5 L185.0,1008.0 L205.5,985.2 L226.4,962.3 L247.2,940.4 L267.9,918.8 L289.2,899.9 L310.7,878.8 L332.0,860.7 L353.0,841.8 L374.3,822.8 L396.2,805.3 L417.2,786.4 L438.5,770.0 L460.1,754.5 L481.4,738.1 L502.6,723.8 L524.3,708.7 L545.6,695.2 L567.2,680.9 L588.9,668.6 L610.2,656.4" fill="none" stroke="#8000FF" stroke-width="1.0"/><use href="#m_pur" x="104.0" y="1065.0"/><use href="#m_pur" x="114.0" y="1063.5"/><use href="#m_pur" x="124.0" y="1061.5"/><use href="#m_pur" x="135.0" y="1058.0"/><use href="#m_pur" x="148.2" y="1049.8"/><use href="#m_pur" x="159.9" y="1036.7"/><use href="#m_pur" x="173.0" y="1017.5"/><use href="#m_pur" x="185.0" y="1008.0"/><use href="#m_pur" x="205.5" y="985.2"/><use href="#m_pur" x="226.4" y="962.3"/><use href="#m_pur" x="247.2" y="940.4"/><use href="#m_pur" x="267.9" y="918.8"/><use href="#m_pur" x="289.2" y="899.9"/><use href="#m_pur" x="310.7" y="878.8"/><use href="#m_pur" x="332.0" y="860.7"/><use href="#m_pur" x="353.0" y="841.8"/><use href="#m_pur" x="374.3" y="822.8"/><use href="#m_pur" x="396.2" y="805.3"/><use href="#m_pur" x="417.2" y="786.4"/><use href="#m_pur" x="438.5" y="770.0"/><use href="#m_pur" x="460.1" y="754.5"/><use href="#m_pur" x="481.4" y="738.1"/><use href="#m_pur" x="502.6" y="723.8"/><use href="#m_pur" x="524.3" y="708.7"/><use href="#m_pur" x="545.6" y="695.2"/><use href="#m_pur" x="567.2" y="680.9"/><use href="#m_pur" x="588.9" y="668.6"/><use href="#m_pur" x="610.2" y="656.4"/><path d="M104.0,1063.5 L110.0,1063.0 L116.0,1062.5 L122.0,1062.0 L128.0,1061.0 L134.0,1058.0 L141.7,1053.0 L154.0,1044.9 L166.4,1036.2 L178.9,1027.4 L192.3,1018.3 L214.4,1005.6 L237.0,995.4 L258.2,988.8 L280.0,973.5 L299.5,959.5 L322.9,949.5 L344.8,940.6 L366.6,930.4 L388.6,921.7 L410.4,911.5 L432.3,904.0 L454.2,898.2 L477.7,892.3 L498.8,888.0 L520.7,884.4 L544.3,888.6 L565.9,879.8 L588.5,873.0 L610.8,868.4 L632.8,864.5" fill="none" stroke="#008000" stroke-width="1.0"/><use href="#m_grn" x="104.0" y="1063.5"/><use href="#m_grn" x="110.0" y="1063.0"/><use href="#m_grn" x="116.0" y="1062.5"/><use href="#m_grn" x="122.0" y="1062.0"/><use href="#m_grn" x="128.0" y="1061.0"/><use href="#m_grn" x="134.0" y="1058.0"/><use href="#m_grn" x="141.7" y="1053.0"/><use href="#m_grn" x="154.0" y="1044.9"/><use href="#m_grn" x="166.4" y="1036.2"/><use href="#m_grn" x="178.9" y="1027.4"/><use href="#m_grn" x="192.3" y="1018.3"/><use href="#m_grn" x="214.4" y="1005.6"/><use href="#m_grn" x="237.0" y="995.4"/><use href="#m_grn" x="258.2" y="988.8"/><use href="#m_grn" x="280.0" y="973.5"/><use href="#m_grn" x="299.5" y="959.5"/><use href="#m_grn" x="322.9" y="949.5"/><use href="#m_grn" x="344.8" y="940.6"/><use href="#m_grn" x="366.6" y="930.4"/><use href="#m_grn" x="388.6" y="921.7"/><use href="#m_grn" x="410.4" y="911.5"/><use href="#m_grn" x="432.3" y="904.0"/><use href="#m_grn" x="454.2" y="898.2"/><use href="#m_grn" x="477.7" y="892.3"/><use href="#m_grn" x="498.8" y="888.0"/><use href="#m_grn" x="520.7" y="884.4"/><use href="#m_grn" x="544.3" y="888.6"/><use href="#m_grn" x="565.9" y="879.8"/><use href="#m_grn" x="588.5" y="873.0"/><use href="#m_grn" x="610.8" y="868.4"/><use href="#m_grn" x="632.8" y="864.5"/><path d="M104.0,1066.0 L112.0,1065.0 L120.0,1063.5 L128.0,1061.5 L136.0,1059.0 L146.0,1055.5 L156.9,1052.3 L167.2,1047.9 L179.4,1042.0 L192.8,1033.3 L213.9,1023.1 L235.8,1011.4 L257.7,1001.2 L278.1,992.4 L299.8,981.5 L321.5,972.3 L343.4,963.1 L364.7,954.2 L387.2,943.1 L409.3,931.4 L431.2,921.2 L453.1,912.4 L475.4,904.3 L497.1,895.2 L519.6,887.7 L542.0,876.3 L563.5,866.6 L585.4,856.4 L607.3,846.4 L629.7,835.0" fill="none" stroke="#808080" stroke-width="1.0"/><use href="#m_gry" x="104.0" y="1066.0"/><use href="#m_gry" x="112.0" y="1065.0"/><use href="#m_gry" x="120.0" y="1063.5"/><use href="#m_gry" x="128.0" y="1061.5"/><use href="#m_gry" x="136.0" y="1059.0"/><use href="#m_gry" x="146.0" y="1055.5"/><use href="#m_gry" x="156.9" y="1052.3"/><use href="#m_gry" x="167.2" y="1047.9"/><use href="#m_gry" x="179.4" y="1042.0"/><use href="#m_gry" x="192.8" y="1033.3"/><use href="#m_gry" x="213.9" y="1023.1"/><use href="#m_gry" x="235.8" y="1011.4"/><use href="#m_gry" x="257.7" y="1001.2"/><use href="#m_gry" x="278.1" y="992.4"/><use href="#m_gry" x="299.8" y="981.5"/><use href="#m_gry" x="321.5" y="972.3"/><use href="#m_gry" x="343.4" y="963.1"/><use href="#m_gry" x="364.7" y="954.2"/><use href="#m_gry" x="387.2" y="943.1"/><use href="#m_gry" x="409.3" y="931.4"/><use href="#m_gry" x="431.2" y="921.2"/><use href="#m_gry" x="453.1" y="912.4"/><use href="#m_gry" x="475.4" y="904.3"/><use href="#m_gry" x="497.1" y="895.2"/><use href="#m_gry" x="519.6" y="887.7"/><use href="#m_gry" x="542.0" y="876.3"/><use href="#m_gry" x="563.5" y="866.6"/><use href="#m_gry" x="585.4" y="856.4"/><use href="#m_gry" x="607.3" y="846.4"/><use href="#m_gry" x="629.7" y="835.0"/><path d="M104.0,1061.5 L109.0,1061.3 L114.0,1061.2 L119.0,1061.0 L124.0,1061.2 L128.0,1061.8 L132.1,1062.0 L143.8,1058.1 L156.9,1052.3 L167.2,1045.0 L178.8,1034.7 L189.9,1024.5 L209.5,1008.5 L229.9,992.4 L250.4,977.2 L270.8,961.8 L291.7,945.1 L313.0,931.4 L333.4,916.8 L354.5,903.6 L375.5,891.4 L396.8,879.7 L418.7,869.5 L439.7,858.4 L461.0,851.1 L482.2,840.3 L504.7,830.9 L526.1,822.7 L547.2,778.9 L568.7,778.9 L590.1,778.0 L612.0,774.5" fill="none" stroke="#800000" stroke-width="1.0"/><use href="#m_dred" x="104.0" y="1061.5"/><use href="#m_dred" x="109.0" y="1061.3"/><use href="#m_dred" x="114.0" y="1061.2"/><use href="#m_dred" x="119.0" y="1061.0"/><use href="#m_dred" x="124.0" y="1061.2"/><use href="#m_dred" x="128.0" y="1061.8"/><use href="#m_dred" x="132.1" y="1062.0"/><use href="#m_dred" x="143.8" y="1058.1"/><use href="#m_dred" x="156.9" y="1052.3"/><use href="#m_dred" x="167.2" y="1045.0"/><use href="#m_dred" x="178.8" y="1034.7"/><use href="#m_dred" x="189.9" y="1024.5"/><use href="#m_dred" x="209.5" y="1008.5"/><use href="#m_dred" x="229.9" y="992.4"/><use href="#m_dred" x="250.4" y="977.2"/><use href="#m_dred" x="270.8" y="961.8"/><use href="#m_dred" x="291.7" y="945.1"/><use href="#m_dred" x="313.0" y="931.4"/><use href="#m_dred" x="333.4" y="916.8"/><use href="#m_dred" x="354.5" y="903.6"/><use href="#m_dred" x="375.5" y="891.4"/><use href="#m_dred" x="396.8" y="879.7"/><use href="#m_dred" x="418.7" y="869.5"/><use href="#m_dred" x="439.7" y="858.4"/><use href="#m_dred" x="461.0" y="851.1"/><use href="#m_dred" x="482.2" y="840.3"/><use href="#m_dred" x="504.7" y="830.9"/><use href="#m_dred" x="526.1" y="822.7"/><use href="#m_dred" x="547.2" y="778.9"/><use href="#m_dred" x="568.7" y="778.9"/><use href="#m_dred" x="590.1" y="778.0"/><use href="#m_dred" x="612.0" y="774.5"/></g><line x1="124.8" y1="626.9" x2="169.3" y2="626.9" stroke="#FF0384" stroke-width="1.2"/><use href="#m_pink" x="147.05" y="626.9"/><text x="192.5" y="635.07" font-size="22.38">ε<tspan font-size="15.57" dy="5.64">v</tspan><tspan font-size="15.57" dx="6.03">undisturbed loess</tspan><tspan font-size="22.38" dy="-5.64" dx="-1.46">/50 kPa</tspan></text><line x1="124.8" y1="662.9" x2="169.3" y2="662.9" stroke="#FF8800" stroke-width="1.2"/><use href="#m_or" x="147.05" y="662.9"/><text x="192.5" y="671.07" font-size="22.38">ε<tspan font-size="15.57" dy="5.64">v</tspan><tspan font-size="15.57" dx="6.03">undisturbed loess</tspan><tspan font-size="22.38" dy="-5.64" dx="-1.46">/100 kPa</tspan></text><line x1="124.8" y1="698.9" x2="169.3" y2="698.9" stroke="#8000FF" stroke-width="1.2"/><use href="#m_pur" x="147.05" y="698.9"/><text x="192.5" y="707.07" font-size="22.38">ε<tspan font-size="15.57" dy="5.64">v</tspan><tspan font-size="15.57" dx="6.03">undisturbed loess</tspan><tspan font-size="22.38" dy="-5.64" dx="-1.46">/200 kPa</tspan></text><line x1="124.8" y1="734" x2="169.3" y2="734" stroke="#008000" stroke-width="1.2"/><use href="#m_grn" x="147.05" y="734"/><text x="192.5" y="742.17" font-size="22.38">ε<tspan font-size="15.57" dy="5.64">v</tspan><tspan font-size="15.57" dx="6.03">remolded loess</tspan><tspan font-size="22.38" dy="-5.64" dx="-1.46">/50 kPa</tspan></text><line x1="124.8" y1="770" x2="169.3" y2="770" stroke="#808080" stroke-width="1.2"/><use href="#m_gry" x="147.05" y="770"/><text x="180.79999999999998" y="778.17" font-size="22.38">ε<tspan font-size="15.57" dy="5.64">v</tspan><tspan font-size="15.57" dx="6.03">remolded loess</tspan><tspan font-size="22.38" dy="-5.64" dx="-1.46">/100 kPa</tspan></text><line x1="124.8" y1="805.6" x2="169.3" y2="805.6" stroke="#800000" stroke-width="1.2"/><use href="#m_dred" x="147.05" y="805.6"/><text x="180.79999999999998" y="813.77" font-size="22.38">ε<tspan font-size="15.57" dy="5.64">v</tspan><tspan font-size="15.57" dx="6.03">remolded loess</tspan><tspan font-size="22.38" dy="-5.64" dx="-1.46">/200 kPa</tspan></text><path d="M102.2,1208.0 V1663.3 H667.5" fill="none" stroke="#000" stroke-width="2.2" stroke-linecap="square"/><line x1="102.2" y1="1663.3" x2="110.2" y2="1663.3" stroke="#000" stroke-width="1.9"/><text transform="translate(85.21,1672.19) scale(0.93,1)" font-size="31.17" text-anchor="middle">0</text><line x1="102.2" y1="1630.8" x2="106.7" y2="1630.8" stroke="#000" stroke-width="1.9"/><line x1="102.2" y1="1598.3" x2="110.2" y2="1598.3" stroke="#000" stroke-width="1.9"/><text transform="translate(85.21,1607.15) scale(0.93,1)" font-size="31.17" text-anchor="middle">2</text><line x1="102.2" y1="1565.7" x2="106.7" y2="1565.7" stroke="#000" stroke-width="1.9"/><line x1="102.2" y1="1533.2" x2="110.2" y2="1533.2" stroke="#000" stroke-width="1.9"/><text transform="translate(85.21,1542.11) scale(0.93,1)" font-size="31.17" text-anchor="middle">4</text><line x1="102.2" y1="1500.7" x2="106.7" y2="1500.7" stroke="#000" stroke-width="1.9"/><line x1="102.2" y1="1468.2" x2="110.2" y2="1468.2" stroke="#000" stroke-width="1.9"/><text transform="translate(85.21,1477.06) scale(0.93,1)" font-size="31.17" text-anchor="middle">6</text><line x1="102.2" y1="1435.7" x2="106.7" y2="1435.7" stroke="#000" stroke-width="1.9"/><line x1="102.2" y1="1403.1" x2="110.2" y2="1403.1" stroke="#000" stroke-width="1.9"/><text transform="translate(85.21,1412.02) scale(0.93,1)" font-size="31.17" text-anchor="middle">8</text><line x1="102.2" y1="1370.6" x2="106.7" y2="1370.6" stroke="#000" stroke-width="1.9"/><line x1="102.2" y1="1338.1" x2="110.2" y2="1338.1" stroke="#000" stroke-width="1.9"/><text transform="translate(69.62,1346.98) scale(0.68,1)" font-size="31.17" text-anchor="middle">1</text><text transform="translate(85.21,1346.98) scale(0.93,1)" font-size="31.17" text-anchor="middle">0</text><line x1="102.2" y1="1305.6" x2="106.7" y2="1305.6" stroke="#000" stroke-width="1.9"/><line x1="102.2" y1="1273.0" x2="110.2" y2="1273.0" stroke="#000" stroke-width="1.9"/><text transform="translate(69.62,1281.93) scale(0.68,1)" font-size="31.17" text-anchor="middle">1</text><text transform="translate(85.21,1281.93) scale(0.93,1)" font-size="31.17" text-anchor="middle">2</text><line x1="102.2" y1="1240.5" x2="106.7" y2="1240.5" stroke="#000" stroke-width="1.9"/><line x1="102.2" y1="1208.0" x2="110.2" y2="1208.0" stroke="#000" stroke-width="1.9"/><text transform="translate(69.62,1216.89) scale(0.68,1)" font-size="31.17" text-anchor="middle">1</text><text transform="translate(85.21,1216.89) scale(0.93,1)" font-size="31.17" text-anchor="middle">4</text><line x1="102.2" y1="1663.3" x2="102.2" y2="1655.3" stroke="#000" stroke-width="1.9"/><text transform="translate(102.20,1696.61) scale(0.93,1)" font-size="31.17" text-anchor="middle">0</text><line x1="119.9" y1="1663.3" x2="119.9" y2="1658.8" stroke="#000" stroke-width="1.9"/><line x1="137.5" y1="1663.3" x2="137.5" y2="1655.3" stroke="#000" stroke-width="1.9"/><text transform="translate(137.53,1696.61) scale(0.68,1)" font-size="31.17" text-anchor="middle">1</text><line x1="155.2" y1="1663.3" x2="155.2" y2="1658.8" stroke="#000" stroke-width="1.9"/><line x1="172.9" y1="1663.3" x2="172.9" y2="1655.3" stroke="#000" stroke-width="1.9"/><text transform="translate(172.86,1696.61) scale(0.93,1)" font-size="31.17" text-anchor="middle">2</text><line x1="190.5" y1="1663.3" x2="190.5" y2="1658.8" stroke="#000" stroke-width="1.9"/><line x1="208.2" y1="1663.3" x2="208.2" y2="1655.3" stroke="#000" stroke-width="1.9"/><text transform="translate(208.19,1696.61) scale(0.93,1)" font-size="31.17" text-anchor="middle">3</text><line x1="225.9" y1="1663.3" x2="225.9" y2="1658.8" stroke="#000" stroke-width="1.9"/><line x1="243.5" y1="1663.3" x2="243.5" y2="1655.3" stroke="#000" stroke-width="1.9"/><text transform="translate(243.52,1696.61) scale(0.93,1)" font-size="31.17" text-anchor="middle">4</text><line x1="261.2" y1="1663.3" x2="261.2" y2="1658.8" stroke="#000" stroke-width="1.9"/><line x1="278.8" y1="1663.3" x2="278.8" y2="1655.3" stroke="#000" stroke-width="1.9"/><text transform="translate(278.85,1696.61) scale(0.93,1)" font-size="31.17" text-anchor="middle">5</text><line x1="296.5" y1="1663.3" x2="296.5" y2="1658.8" stroke="#000" stroke-width="1.9"/><line x1="314.2" y1="1663.3" x2="314.2" y2="1655.3" stroke="#000" stroke-width="1.9"/><text transform="translate(314.18,1696.61) scale(0.93,1)" font-size="31.17" text-anchor="middle">6</text><line x1="331.8" y1="1663.3" x2="331.8" y2="1658.8" stroke="#000" stroke-width="1.9"/><line x1="349.5" y1="1663.3" x2="349.5" y2="1655.3" stroke="#000" stroke-width="1.9"/><text transform="translate(349.51,1696.61) scale(0.93,1)" font-size="31.17" text-anchor="middle">7</text><line x1="367.2" y1="1663.3" x2="367.2" y2="1658.8" stroke="#000" stroke-width="1.9"/><line x1="384.8" y1="1663.3" x2="384.8" y2="1655.3" stroke="#000" stroke-width="1.9"/><text transform="translate(384.84,1696.61) scale(0.93,1)" font-size="31.17" text-anchor="middle">8</text><line x1="402.5" y1="1663.3" x2="402.5" y2="1658.8" stroke="#000" stroke-width="1.9"/><line x1="420.2" y1="1663.3" x2="420.2" y2="1655.3" stroke="#000" stroke-width="1.9"/><text transform="translate(420.17,1696.61) scale(0.93,1)" font-size="31.17" text-anchor="middle">9</text><line x1="437.8" y1="1663.3" x2="437.8" y2="1658.8" stroke="#000" stroke-width="1.9"/><line x1="455.5" y1="1663.3" x2="455.5" y2="1655.3" stroke="#000" stroke-width="1.9"/><text transform="translate(447.71,1696.61) scale(0.68,1)" font-size="31.17" text-anchor="middle">1</text><text transform="translate(463.29,1696.61) scale(0.93,1)" font-size="31.17" text-anchor="middle">0</text><line x1="473.2" y1="1663.3" x2="473.2" y2="1658.8" stroke="#000" stroke-width="1.9"/><line x1="490.8" y1="1663.3" x2="490.8" y2="1655.3" stroke="#000" stroke-width="1.9"/><text transform="translate(483.04,1696.61) scale(0.68,1)" font-size="31.17" text-anchor="middle">1</text><text transform="translate(498.62,1696.61) scale(0.68,1)" font-size="31.17" text-anchor="middle">1</text><line x1="508.5" y1="1663.3" x2="508.5" y2="1658.8" stroke="#000" stroke-width="1.9"/><line x1="526.2" y1="1663.3" x2="526.2" y2="1655.3" stroke="#000" stroke-width="1.9"/><text transform="translate(518.37,1696.61) scale(0.68,1)" font-size="31.17" text-anchor="middle">1</text><text transform="translate(533.95,1696.61) scale(0.93,1)" font-size="31.17" text-anchor="middle">2</text><line x1="543.8" y1="1663.3" x2="543.8" y2="1658.8" stroke="#000" stroke-width="1.9"/><line x1="561.5" y1="1663.3" x2="561.5" y2="1655.3" stroke="#000" stroke-width="1.9"/><text transform="translate(553.70,1696.61) scale(0.68,1)" font-size="31.17" text-anchor="middle">1</text><text transform="translate(569.28,1696.61) scale(0.93,1)" font-size="31.17" text-anchor="middle">3</text><line x1="579.2" y1="1663.3" x2="579.2" y2="1658.8" stroke="#000" stroke-width="1.9"/><line x1="596.8" y1="1663.3" x2="596.8" y2="1655.3" stroke="#000" stroke-width="1.9"/><text transform="translate(589.03,1696.61) scale(0.68,1)" font-size="31.17" text-anchor="middle">1</text><text transform="translate(604.61,1696.61) scale(0.93,1)" font-size="31.17" text-anchor="middle">4</text><line x1="614.5" y1="1663.3" x2="614.5" y2="1658.8" stroke="#000" stroke-width="1.9"/><line x1="632.1" y1="1663.3" x2="632.1" y2="1655.3" stroke="#000" stroke-width="1.9"/><text transform="translate(624.36,1696.61) scale(0.68,1)" font-size="31.17" text-anchor="middle">1</text><text transform="translate(639.94,1696.61) scale(0.93,1)" font-size="31.17" text-anchor="middle">5</text><line x1="649.8" y1="1663.3" x2="649.8" y2="1658.8" stroke="#000" stroke-width="1.9"/><line x1="667.5" y1="1663.3" x2="667.5" y2="1655.3" stroke="#000" stroke-width="1.9"/><text transform="translate(659.69,1696.61) scale(0.68,1)" font-size="31.17" text-anchor="middle">1</text><text transform="translate(675.27,1696.61) scale(0.93,1)" font-size="31.17" text-anchor="middle">6</text><g transform="translate(34.3,1600.7) rotate(-90)"><text x="-0.50" y="0.00" font-size="30.10" font-weight="400" font-style="normal" text-anchor="start" >Volumetric strain</text><text x="218.20" y="0.00" font-size="30.10" font-weight="400" font-style="normal" text-anchor="start" >ε</text><text x="231.30" y="8.48" font-size="21.46" font-weight="400" font-style="italic" text-anchor="start" >v</text><g transform="translate(256.9,0) scale(1.022)"><path d="M0.7,1.2 L12.8,-23.6" stroke="#000" stroke-width="1.5" fill="none"/><path d="M20.6,-0.7 L36.4,-21.8" stroke="#000" stroke-width="1.3" fill="none"/><path d="M16.1,-16.5 a4.5,5.6 0 1,0 9,0 a4.5,5.6 0 1,0 -9,0 Z M18.35,-16.5 a2.25,4.5 0 1,0 4.5,0 a2.25,4.5 0 1,0 -4.5,0 Z" fill="#000" fill-rule="evenodd"/><path d="M31.6,-5.5 a4.5,5.6 0 1,0 9,0 a4.5,5.6 0 1,0 -9,0 Z M33.85,-5.5 a2.25,4.5 0 1,0 4.5,0 a2.25,4.5 0 1,0 -4.5,0 Z" fill="#000" fill-rule="evenodd"/></g></g><g transform="translate(300.8,1740.0) scale(1.022)"><text x="-0.60" y="0.00" font-size="29" font-weight="400" font-style="normal" text-anchor="start" >Axial strain ε</text><text x="156.20" y="8.70" font-size="21" font-weight="400" font-style="italic" text-anchor="start" >a</text><path d="M183.0,1.8 L193.3,-21.4" stroke="#000" stroke-width="1.5" fill="none"/><path d="M200.8,0.2 L214.8,-19.8" stroke="#000" stroke-width="1.3" fill="none"/><path d="M196.1,-14.45 a4.6,5.35 0 1,0 9.2,0 a4.6,5.35 0 1,0 -9.2,0 Z M198.39999999999998,-14.45 a2.3,4.3 0 1,0 4.6,0 a2.3,4.3 0 1,0 -4.6,0 Z" fill="#000" fill-rule="evenodd"/><path d="M210.4,-4.75 a4.6,5.35 0 1,0 9.2,0 a4.6,5.35 0 1,0 -9.2,0 Z M212.7,-4.75 a2.3,4.3 0 1,0 4.6,0 a2.3,4.3 0 1,0 -4.6,0 Z" fill="#000" fill-rule="evenodd"/></g><g transform="translate(280.3,1774.6) scale(1.022)"><text x="-1.20" y="0.50" font-size="28" font-weight="700" font-style="normal" text-anchor="start" >(c)</text><text x="39.50" y="0.00" font-size="22" font-weight="400" font-style="normal" text-anchor="start" >s</text><rect x="50.2" y="-10.65" width="17.1" height="1.3" fill="#000"/><rect x="50.2" y="-6.15" width="17.1" height="1.3" fill="#000"/><text x="70.50" y="0.00" font-size="22" font-weight="400" font-style="normal" text-anchor="start" >200 kPa</text></g><clipPath id="plot2"><rect x="103.3" y="1188.0" width="585.28" height="474.19999999999993"/></clipPath><g clip-path="url(#plot2)"><path d="M102.2,1664.0 L112.0,1663.5 L122.0,1662.5 L132.0,1661.5 L143.0,1660.0 L162.0,1656.0 L183.0,1651.5 L205.6,1646.5 L226.8,1641.0 L249.4,1636.7 L271.4,1633.0 L293.3,1631.2 L316.0,1629.7 L337.9,1627.5 L359.9,1625.6 L381.0,1623.0 L402.8,1621.7 L424.3,1611.2 L446.3,1609.2 L468.2,1606.3 L503.9,1603.4 L513.4,1604.1 L535.3,1603.4 L557.2,1601.9 L579.4,1601.0 L601.6,1600.3 L623.3,1600.3" fill="none" stroke="#FF0384" stroke-width="1.0"/><use href="#m_pink" x="102.2" y="1664.0"/><use href="#m_pink" x="112.0" y="1663.5"/><use href="#m_pink" x="122.0" y="1662.5"/><use href="#m_pink" x="132.0" y="1661.5"/><use href="#m_pink" x="143.0" y="1660.0"/><use href="#m_pink" x="162.0" y="1656.0"/><use href="#m_pink" x="183.0" y="1651.5"/><use href="#m_pink" x="205.6" y="1646.5"/><use href="#m_pink" x="226.8" y="1641.0"/><use href="#m_pink" x="249.4" y="1636.7"/><use href="#m_pink" x="271.4" y="1633.0"/><use href="#m_pink" x="293.3" y="1631.2"/><use href="#m_pink" x="316.0" y="1629.7"/><use href="#m_pink" x="337.9" y="1627.5"/><use href="#m_pink" x="359.9" y="1625.6"/><use href="#m_pink" x="381.0" y="1623.0"/><use href="#m_pink" x="402.8" y="1621.7"/><use href="#m_pink" x="424.3" y="1611.2"/><use href="#m_pink" x="446.3" y="1609.2"/><use href="#m_pink" x="468.2" y="1606.3"/><use href="#m_pink" x="503.9" y="1603.4"/><use href="#m_pink" x="513.4" y="1604.1"/><use href="#m_pink" x="535.3" y="1603.4"/><use href="#m_pink" x="557.2" y="1601.9"/><use href="#m_pink" x="579.4" y="1601.0"/><use href="#m_pink" x="601.6" y="1600.3"/><use href="#m_pink" x="623.3" y="1600.3"/><path d="M102.2,1664.0 L113.0,1663.0 L124.0,1661.5 L135.0,1659.0 L146.0,1653.5 L165.0,1646.5 L185.0,1641.0 L206.0,1633.5 L226.0,1626.0 L248.0,1617.5 L274.0,1606.6 L295.1,1600.8 L316.3,1595.0 L338.2,1586.9 L359.7,1580.4 L382.0,1574.4 L403.1,1568.3 L424.1,1561.2 L445.1,1549.4 L466.9,1544.9 L488.4,1541.0 L510.4,1536.6 L532.0,1532.6 L553.7,1528.6 L575.9,1524.8 L597.6,1520.9 L618.0,1511.1" fill="none" stroke="#FF8800" stroke-width="1.0"/><use href="#m_or" x="102.2" y="1664.0"/><use href="#m_or" x="113.0" y="1663.0"/><use href="#m_or" x="124.0" y="1661.5"/><use href="#m_or" x="135.0" y="1659.0"/><use href="#m_or" x="146.0" y="1653.5"/><use href="#m_or" x="165.0" y="1646.5"/><use href="#m_or" x="185.0" y="1641.0"/><use href="#m_or" x="206.0" y="1633.5"/><use href="#m_or" x="226.0" y="1626.0"/><use href="#m_or" x="248.0" y="1617.5"/><use href="#m_or" x="274.0" y="1606.6"/><use href="#m_or" x="295.1" y="1600.8"/><use href="#m_or" x="316.3" y="1595.0"/><use href="#m_or" x="338.2" y="1586.9"/><use href="#m_or" x="359.7" y="1580.4"/><use href="#m_or" x="382.0" y="1574.4"/><use href="#m_or" x="403.1" y="1568.3"/><use href="#m_or" x="424.1" y="1561.2"/><use href="#m_or" x="445.1" y="1549.4"/><use href="#m_or" x="466.9" y="1544.9"/><use href="#m_or" x="488.4" y="1541.0"/><use href="#m_or" x="510.4" y="1536.6"/><use href="#m_or" x="532.0" y="1532.6"/><use href="#m_or" x="553.7" y="1528.6"/><use href="#m_or" x="575.9" y="1524.8"/><use href="#m_or" x="597.6" y="1520.9"/><use href="#m_or" x="618.0" y="1511.1"/><path d="M102.2,1663.0 L111.0,1662.8 L120.0,1662.3 L129.0,1661.5 L138.0,1660.0 L148.0,1658.0 L160.0,1655.0 L172.0,1652.5 L184.1,1649.0 L202.3,1640.5 L222.8,1631.8 L243.2,1623.0 L263.8,1614.9 L284.2,1604.7 L305.4,1595.9 L327.3,1586.4 L347.0,1577.7 L367.6,1568.0 L388.6,1559.2 L409.6,1551.2 L430.6,1544.0 L451.7,1536.0 L472.7,1529.1 L492.9,1522.0 L514.0,1515.8 L535.0,1510.0 L556.1,1503.5 L577.1,1497.6 L598.1,1492.2" fill="none" stroke="#8000FF" stroke-width="1.0"/><use href="#m_pur" x="102.2" y="1663.0"/><use href="#m_pur" x="111.0" y="1662.8"/><use href="#m_pur" x="120.0" y="1662.3"/><use href="#m_pur" x="129.0" y="1661.5"/><use href="#m_pur" x="138.0" y="1660.0"/><use href="#m_pur" x="148.0" y="1658.0"/><use href="#m_pur" x="160.0" y="1655.0"/><use href="#m_pur" x="172.0" y="1652.5"/><use href="#m_pur" x="184.1" y="1649.0"/><use href="#m_pur" x="202.3" y="1640.5"/><use href="#m_pur" x="222.8" y="1631.8"/><use href="#m_pur" x="243.2" y="1623.0"/><use href="#m_pur" x="263.8" y="1614.9"/><use href="#m_pur" x="284.2" y="1604.7"/><use href="#m_pur" x="305.4" y="1595.9"/><use href="#m_pur" x="327.3" y="1586.4"/><use href="#m_pur" x="347.0" y="1577.7"/><use href="#m_pur" x="367.6" y="1568.0"/><use href="#m_pur" x="388.6" y="1559.2"/><use href="#m_pur" x="409.6" y="1551.2"/><use href="#m_pur" x="430.6" y="1544.0"/><use href="#m_pur" x="451.7" y="1536.0"/><use href="#m_pur" x="472.7" y="1529.1"/><use href="#m_pur" x="492.9" y="1522.0"/><use href="#m_pur" x="514.0" y="1515.8"/><use href="#m_pur" x="535.0" y="1510.0"/><use href="#m_pur" x="556.1" y="1503.5"/><use href="#m_pur" x="577.1" y="1497.6"/><use href="#m_pur" x="598.1" y="1492.2"/><path d="M102.2,1664.0 L112.0,1664.0 L122.0,1664.0 L132.0,1664.0 L144.3,1665.0 L156.5,1662.5 L168.1,1659.7 L179.8,1655.4 L192.2,1649.5 L212.6,1641.5 L233.8,1634.2 L255.0,1626.9 L277.0,1623.9 L298.9,1618.1 L320.8,1613.0 L342.7,1609.3 L363.9,1605.2 L386.2,1601.2 L408.5,1598.5 L430.9,1595.8 L452.7,1593.3 L474.6,1591.1 L496.6,1589.6 L518.5,1587.8 L540.4,1585.8 L561.8,1579.7 L584.0,1577.6 L606.2,1575.8 L628.4,1574.1" fill="none" stroke="#2EAA66" stroke-width="1.0"/><use href="#m_teal" x="102.2" y="1664.0"/><use href="#m_teal" x="112.0" y="1664.0"/><use href="#m_teal" x="122.0" y="1664.0"/><use href="#m_teal" x="132.0" y="1664.0"/><use href="#m_teal" x="144.3" y="1665.0"/><use href="#m_teal" x="156.5" y="1662.5"/><use href="#m_teal" x="168.1" y="1659.7"/><use href="#m_teal" x="179.8" y="1655.4"/><use href="#m_teal" x="192.2" y="1649.5"/><use href="#m_teal" x="212.6" y="1641.5"/><use href="#m_teal" x="233.8" y="1634.2"/><use href="#m_teal" x="255.0" y="1626.9"/><use href="#m_teal" x="277.0" y="1623.9"/><use href="#m_teal" x="298.9" y="1618.1"/><use href="#m_teal" x="320.8" y="1613.0"/><use href="#m_teal" x="342.7" y="1609.3"/><use href="#m_teal" x="363.9" y="1605.2"/><use href="#m_teal" x="386.2" y="1601.2"/><use href="#m_teal" x="408.5" y="1598.5"/><use href="#m_teal" x="430.9" y="1595.8"/><use href="#m_teal" x="452.7" y="1593.3"/><use href="#m_teal" x="474.6" y="1591.1"/><use href="#m_teal" x="496.6" y="1589.6"/><use href="#m_teal" x="518.5" y="1587.8"/><use href="#m_teal" x="540.4" y="1585.8"/><use href="#m_teal" x="561.8" y="1579.7"/><use href="#m_teal" x="584.0" y="1577.6"/><use href="#m_teal" x="606.2" y="1575.8"/><use href="#m_teal" x="628.4" y="1574.1"/><path d="M102.2,1663.0 L112.0,1662.5 L122.0,1661.5 L132.0,1659.5 L145.5,1654.0 L164.2,1647.5 L178.3,1642.0 L191.4,1636.9 L210.4,1628.9 L231.5,1619.4 L252.7,1611.4 L275.0,1602.5 L296.9,1596.0 L318.1,1587.9 L341.1,1581.4 L362.3,1577.2 L384.7,1572.3 L406.2,1567.0 L428.5,1561.7 L450.4,1557.6 L472.7,1553.6 L494.2,1549.0 L515.5,1543.2 L539.0,1541.3 L561.2,1538.5 L583.4,1535.5 L605.8,1532.7 L627.8,1529.9" fill="none" stroke="#808080" stroke-width="1.0"/><use href="#m_gry" x="102.2" y="1663.0"/><use href="#m_gry" x="112.0" y="1662.5"/><use href="#m_gry" x="122.0" y="1661.5"/><use href="#m_gry" x="132.0" y="1659.5"/><use href="#m_gry" x="145.5" y="1654.0"/><use href="#m_gry" x="164.2" y="1647.5"/><use href="#m_gry" x="178.3" y="1642.0"/><use href="#m_gry" x="191.4" y="1636.9"/><use href="#m_gry" x="210.4" y="1628.9"/><use href="#m_gry" x="231.5" y="1619.4"/><use href="#m_gry" x="252.7" y="1611.4"/><use href="#m_gry" x="275.0" y="1602.5"/><use href="#m_gry" x="296.9" y="1596.0"/><use href="#m_gry" x="318.1" y="1587.9"/><use href="#m_gry" x="341.1" y="1581.4"/><use href="#m_gry" x="362.3" y="1577.2"/><use href="#m_gry" x="384.7" y="1572.3"/><use href="#m_gry" x="406.2" y="1567.0"/><use href="#m_gry" x="428.5" y="1561.7"/><use href="#m_gry" x="450.4" y="1557.6"/><use href="#m_gry" x="472.7" y="1553.6"/><use href="#m_gry" x="494.2" y="1549.0"/><use href="#m_gry" x="515.5" y="1543.2"/><use href="#m_gry" x="539.0" y="1541.3"/><use href="#m_gry" x="561.2" y="1538.5"/><use href="#m_gry" x="583.4" y="1535.5"/><use href="#m_gry" x="605.8" y="1532.7"/><use href="#m_gry" x="627.8" y="1529.9"/><path d="M102.2,1661.5 L106.5,1661.5 L111.0,1661.3 L115.5,1661.0 L120.0,1661.0 L124.5,1660.5 L129.0,1660.0 L134.0,1658.5 L139.4,1656.2 L150.4,1649.6 L162.1,1644.0 L173.9,1637.9 L186.0,1631.6 L206.4,1620.7 L226.9,1608.3 L247.6,1594.9 L268.9,1579.5 L289.8,1561.8 L311.4,1541.9 L332.3,1519.8 L353.9,1497.5 L375.7,1476.5 L397.2,1455.0 L418.3,1433.7 L440.3,1415.4 L461.9,1398.5 L483.0,1377.6 L504.7,1361.0 L526.0,1341.4 L546.8,1325.1 L568.9,1305.9 L591.4,1288.7 L613.2,1274.7" fill="none" stroke="#800000" stroke-width="1.0"/><use href="#m_dred" x="102.2" y="1661.5"/><use href="#m_dred" x="106.5" y="1661.5"/><use href="#m_dred" x="111.0" y="1661.3"/><use href="#m_dred" x="115.5" y="1661.0"/><use href="#m_dred" x="120.0" y="1661.0"/><use href="#m_dred" x="124.5" y="1660.5"/><use href="#m_dred" x="129.0" y="1660.0"/><use href="#m_dred" x="134.0" y="1658.5"/><use href="#m_dred" x="139.4" y="1656.2"/><use href="#m_dred" x="150.4" y="1649.6"/><use href="#m_dred" x="162.1" y="1644.0"/><use href="#m_dred" x="173.9" y="1637.9"/><use href="#m_dred" x="186.0" y="1631.6"/><use href="#m_dred" x="206.4" y="1620.7"/><use href="#m_dred" x="226.9" y="1608.3"/><use href="#m_dred" x="247.6" y="1594.9"/><use href="#m_dred" x="268.9" y="1579.5"/><use href="#m_dred" x="289.8" y="1561.8"/><use href="#m_dred" x="311.4" y="1541.9"/><use href="#m_dred" x="332.3" y="1519.8"/><use href="#m_dred" x="353.9" y="1497.5"/><use href="#m_dred" x="375.7" y="1476.5"/><use href="#m_dred" x="397.2" y="1455.0"/><use href="#m_dred" x="418.3" y="1433.7"/><use href="#m_dred" x="440.3" y="1415.4"/><use href="#m_dred" x="461.9" y="1398.5"/><use href="#m_dred" x="483.0" y="1377.6"/><use href="#m_dred" x="504.7" y="1361.0"/><use href="#m_dred" x="526.0" y="1341.4"/><use href="#m_dred" x="546.8" y="1325.1"/><use href="#m_dred" x="568.9" y="1305.9"/><use href="#m_dred" x="591.4" y="1288.7"/><use href="#m_dred" x="613.2" y="1274.7"/></g><line x1="117.2" y1="1219.7" x2="164.2" y2="1219.7" stroke="#FF0384" stroke-width="1.2"/><use href="#m_pink" x="140.7" y="1219.7"/><text x="188.39999999999998" y="1228.31" font-size="23.57">ε<tspan font-size="16.40" dy="5.94">v</tspan><tspan font-size="16.40" dx="6.35">undisturbed loess</tspan><tspan font-size="23.57" dy="-5.94" dx="-1.54">/50 kPa</tspan></text><line x1="117.2" y1="1257.3" x2="164.2" y2="1257.3" stroke="#FF8800" stroke-width="1.2"/><use href="#m_or" x="140.7" y="1257.3"/><text x="188.39999999999998" y="1265.91" font-size="23.57">ε<tspan font-size="16.40" dy="5.94">v</tspan><tspan font-size="16.40" dx="6.35">undisturbed loess</tspan><tspan font-size="23.57" dy="-5.94" dx="-1.54">/100 kPa</tspan></text><line x1="117.2" y1="1294.9" x2="164.2" y2="1294.9" stroke="#8000FF" stroke-width="1.2"/><use href="#m_pur" x="140.7" y="1294.9"/><text x="188.39999999999998" y="1303.51" font-size="23.57">ε<tspan font-size="16.40" dy="5.94">v</tspan><tspan font-size="16.40" dx="6.35">undisturbed loess</tspan><tspan font-size="23.57" dy="-5.94" dx="-1.54">/200 kPa</tspan></text><line x1="117.2" y1="1332.7" x2="164.2" y2="1332.7" stroke="#2EAA66" stroke-width="1.2"/><use href="#m_teal" x="140.7" y="1332.7"/><text x="188.39999999999998" y="1341.31" font-size="23.57">ε<tspan font-size="16.40" dy="5.94">v</tspan><tspan font-size="16.40" dx="6.35">remolded loess</tspan><tspan font-size="23.57" dy="-5.94" dx="-1.54">/50 kPa</tspan></text><line x1="117.2" y1="1370.1" x2="164.2" y2="1370.1" stroke="#808080" stroke-width="1.2"/><use href="#m_gry" x="140.7" y="1370.1"/><text x="176.7" y="1378.71" font-size="23.57">ε<tspan font-size="16.40" dy="5.94">v</tspan><tspan font-size="16.40" dx="6.35">remolded loess</tspan><tspan font-size="23.57" dy="-5.94" dx="-1.54">/100 kPa</tspan></text><line x1="117.2" y1="1408" x2="164.2" y2="1408" stroke="#800000" stroke-width="1.2"/><use href="#m_dred" x="140.7" y="1408"/><text x="176.7" y="1416.61" font-size="23.57">ε<tspan font-size="16.40" dy="5.94">v</tspan><tspan font-size="16.40" dx="6.35">remolded loess</tspan><tspan font-size="23.57" dy="-5.94" dx="-1.54">/200 kPa</tspan></text></svg>
</body></html>
